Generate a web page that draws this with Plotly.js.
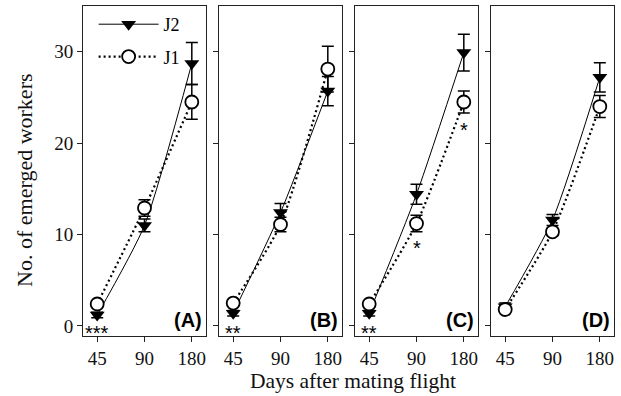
<!DOCTYPE html>
<html><head><meta charset="utf-8">
<script src="https://cdn.plot.ly/plotly-3.0.1.min.js"></script>
<style>html,body{margin:0;padding:0;background:#fff}#chart{width:621px;height:396px}</style>
</head><body><div id="chart"></div>
<script>
// Data
const days = ['45', '90', '180'];
const panelLabels = ['(A)', '(B)', '(C)', '(D)'];

const j2A = [1.2, 11.0, 28.7];
const j2AErr = [0.3, 0.7, 2.3];
const j1A = [2.4, 12.9, 24.5];
const j1AErr = [0.2, 0.9, 1.9];

const j2B = [1.4, 12.4, 25.7];
const j2BErr = [0.3, 1.0, 1.6];
const j1B = [2.5, 11.1, 28.1];
const j1BErr = [0.2, 0.8, 2.5];

const j2C = [1.4, 14.4, 29.9];
const j2CErr = [0.3, 1.1, 2.0];
const j1C = [2.4, 11.2, 24.5];
const j1CErr = [0.2, 0.9, 1.2];

const j2D = [2.1, 11.6, 27.2];
const j2DErr = [0.4, 0.6, 1.6];
const j1D = [1.8, 10.3, 24.0];
const j1DErr = [0.2, 0.4, 1.2];

// significance marks
const sigPanel = [0, 1, 2, 2, 2];
const sigDay = ['45', '45', '45', '90', '180'];
const sigY = [-0.8, -0.8, -0.8, 8.5, 21.4];
const sigText = ['***', '**', '**', '*', '*'];

const j2Series = [j2A, j2B, j2C, j2D];
const j2Errs = [j2AErr, j2BErr, j2CErr, j2DErr];
const j1Series = [j1A, j1B, j1C, j1D];
const j1Errs = [j1AErr, j1BErr, j1CErr, j1DErr];

const serif = '"Liberation Serif", "Times New Roman", serif';
const sans = '"Liberation Sans", Arial, sans-serif';

const traces = [];
const layout = {
  width: 621, height: 396,
  margin: {l: 83, r: 7, t: 6, b: 60},
  paper_bgcolor: '#fff', plot_bgcolor: '#fff',
  showlegend: true,
  legend: {
    x: 0.02, y: 1.0, xanchor: 'left', yanchor: 'top',
    font: {family: serif, size: 18, color: '#000'},
    bgcolor: 'rgba(0,0,0,0)', itemwidth: 60, tracegroupgap: 6,
    traceorder: 'grouped'
  },
  annotations: [],
  font: {family: serif, color: '#000'}
};

const W = 531, pw = 123, gap = 13;
for (let p = 0; p < 4; p++) {
  const sfx = p === 0 ? '' : String(p + 1);
  const xa = 'x' + sfx, ya = 'y' + sfx;
  const x0 = (p * (pw + gap)) / W, x1 = (p * (pw + gap) + pw) / W;
  layout['xaxis' + sfx] = {
    domain: [x0, Math.min(1, x1)], anchor: ya, type: 'category',
    range: [-0.3, 2.3], showgrid: false, zeroline: false,
    showline: true, mirror: true, linecolor: '#222', linewidth: 1,
    ticks: 'outside', ticklen: 5, tickcolor: '#222',
    tickfont: {family: serif, size: 19, color: '#111'}
  };
  layout['yaxis' + sfx] = {
    anchor: xa, range: [-1.1, 35], showgrid: false, zeroline: false,
    showline: true, mirror: true, linecolor: '#222', linewidth: 1,
    ticks: 'outside', ticklen: 5, tickcolor: '#222',
    tickvals: [0, 10, 20, 30], showticklabels: p === 0,
    tickfont: {family: serif, size: 19, color: '#111'}
  };
  traces.push({
    x: days, y: j2Series[p], xaxis: xa, yaxis: ya, type: 'scatter', mode: 'lines+markers',
    name: 'J2', legendgroup: 'J2', showlegend: p === 0,
    line: {color: '#000', width: 1, shape: 'spline', smoothing: 0.6},
    marker: {symbol: 'triangle-down', size: 13, color: '#000'},
    error_y: {type: 'data', array: j2Errs[p], color: '#000', thickness: 1.5, width: 6}
  });
  traces.push({
    x: days, y: j1Series[p], xaxis: xa, yaxis: ya, type: 'scatter', mode: 'lines+markers',
    name: 'J1', legendgroup: 'J1', showlegend: p === 0,
    line: {color: '#000', width: 2.2, dash: '2px,3px', shape: 'spline', smoothing: 0.6},
    marker: {symbol: 'circle', size: 13, color: '#fff', line: {color: '#000', width: 1.8}},
    error_y: {type: 'data', array: j1Errs[p], color: '#000', thickness: 1.5, width: 6}
  });
  layout.annotations.push({
    xref: xa + ' domain', yref: ya + ' domain', x: 0.985, y: 0.01,
    xanchor: 'right', yanchor: 'bottom', showarrow: false,
    text: '<b>' + panelLabels[p] + '</b>', font: {family: sans, size: 20, color: '#000'}
  });
}
for (let i = 0; i < sigText.length; i++) {
  const p = sigPanel[i];
  const sfx = p === 0 ? '' : String(p + 1);
  layout.annotations.push({
    xref: 'x' + sfx, yref: 'y' + sfx, x: days.indexOf(sigDay[i]), y: sigY[i],
    xanchor: 'center', yanchor: 'middle', showarrow: false,
    text: sigText[i], font: {family: sans, size: 20, color: '#000'}
  });
}
layout.annotations.push({
  xref: 'paper', yref: 'paper', x: 0.509, y: 0, yshift: -45, xanchor: 'center', yanchor: 'middle',
  showarrow: false, text: 'Days after mating flight', font: {family: serif, size: 21.5, color: '#111'}
});
layout.annotations.push({
  xref: 'paper', yref: 'paper', x: 0, xshift: -58, y: 0.47, xanchor: 'center', yanchor: 'middle',
  textangle: -90, showarrow: false, text: 'No. of emerged workers', font: {family: serif, size: 22, color: '#111'}
});

Plotly.newPlot('chart', traces, layout, {displayModeBar: false, staticPlot: true});
</script></body></html>
